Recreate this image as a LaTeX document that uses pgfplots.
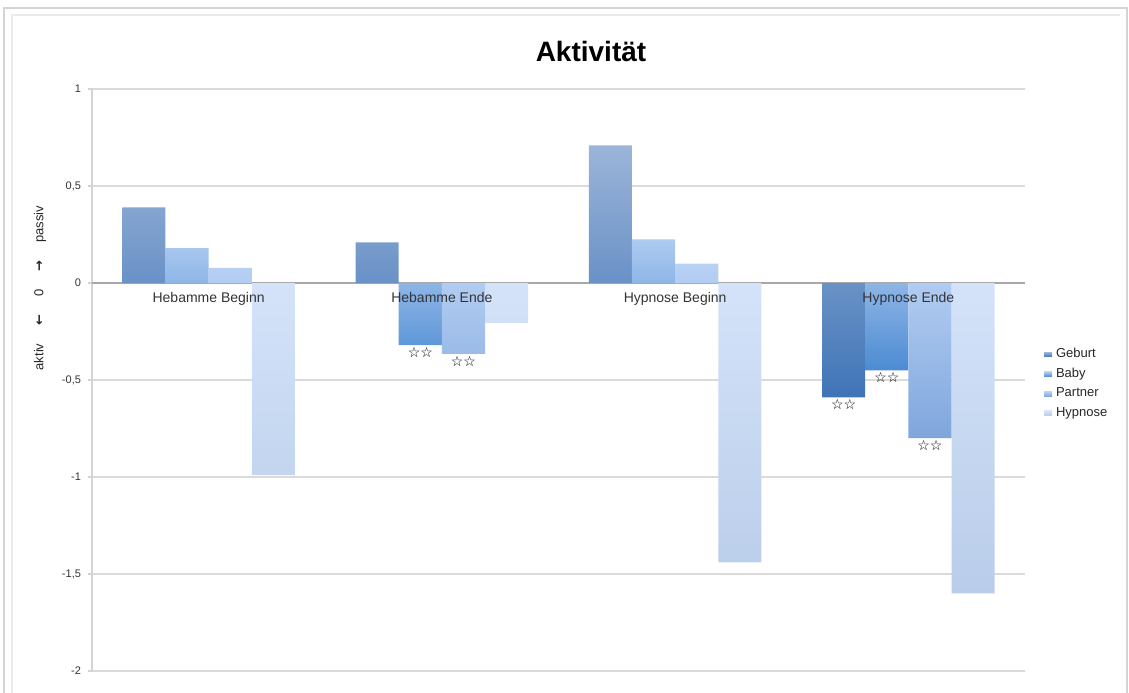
\documentclass[border=0pt]{standalone}
\usepackage{fontspec}
\setmainfont{Liberation Sans}
\newfontfamily\symfont{DejaVu Sans}
\usepackage{pgfplots}
\pgfplotsset{compat=1.18}

% bar gradients: lighter at the top, darker at the bottom
\definecolor{gebT}{HTML}{9CB5D9}
\definecolor{gebB}{HTML}{3F74B7}
\definecolor{babT}{HTML}{AECBF1}
\definecolor{babB}{HTML}{4C8BD2}
\definecolor{parT}{HTML}{B8D1F5}
\definecolor{parB}{HTML}{7FA6DC}
\definecolor{hypT}{HTML}{D4E3F9}
\definecolor{hypB}{HTML}{B9CCE9}
\definecolor{framegray}{HTML}{D4D4D4}
\definecolor{gridgray}{HTML}{DADADA}
\definecolor{zerogray}{HTML}{A8A8A8}

\newcommand{\stars}{{\symfont\fontsize{7}{7}\selectfont ☆☆}}

\begin{document}
\begin{tikzpicture}
% decorations laid out on a half-point grid
\begin{scope}[x=0.5pt,y=0.5pt]
\path[use as bounding box] (0,0) rectangle (1129,692);
\draw[framegray, line width=0.9pt] (4,-20) -- (4,684) -- (1127,684) -- (1127,-20);
\draw[black!8, line width=0.9pt] (12,-20) -- (12,677) -- (1120,677);
\node[anchor=base, font=\bfseries\fontsize{14}{14}\selectfont] at (591,630) {Aktivität};
\node[rotate=90, font=\fontsize{6.5}{7}\selectfont, text=black!85] at (40,404)
  {aktiv\hspace{9pt}{\symfont\bfseries ←}\hspace{9pt}0\hspace{9pt}{\symfont\bfseries →}\hspace{9pt}passiv};
\end{scope}

\begin{axis}[
  at={(46pt,10.5pt)}, anchor=south west,
  width=466.5pt, height=291pt, scale only axis,
  xmin=-0.5, xmax=3.5, ymin=-2, ymax=1,
  axis x line=none, axis y line*=left,
  y axis line style={draw=framegray, line width=0.9pt},
  ytick={-2,-1.5,-1,-0.5,0,0.5,1},
  yticklabels={-2,{-1,5},-1,{-0,5},0,{0,5},1},
  yticklabel style={font=\fontsize{5.5}{6}\selectfont, text=black!80},
  tick align=outside, major tick length=2pt,
  ytick style={draw=framegray, line width=0.9pt},
  ymajorgrids, grid style={draw=gridgray, line width=0.9pt},
  extra y ticks={0}, extra y tick labels={},
  extra y tick style={grid style={draw=zerogray, line width=0.9pt}},
  bar width=0.185,
  legend style={at={(axis description cs:1.0200,0.562)}, anchor=north west,
    draw=none, fill=none, inner sep=0pt, row sep=-0.3pt,
    font=\fontsize{6.5}{7}\selectfont, text=black!85},
  legend cell align=left,
  legend image code/.code={\fill[#1] (0pt,-1.2pt) rectangle (4pt,1.2pt);},
]
\addplot[ybar, bar shift=-0.2775, draw=none, top color=gebT, bottom color=gebB]
  coordinates {(0,0.39) (1,0.21) (2,0.71) (3,-0.59)};
\addlegendentry{Geburt}
\addplot[ybar, bar shift=-0.0925, draw=none, top color=babT, bottom color=babB]
  coordinates {(0,0.18) (1,-0.32) (2,0.225) (3,-0.45)};
\addlegendentry{Baby}
\addplot[ybar, bar shift=0.0925, draw=none, top color=parT, bottom color=parB]
  coordinates {(0,0.078) (1,-0.365) (2,0.10) (3,-0.80)};
\addlegendentry{Partner}
\addplot[ybar, bar shift=0.2775, draw=none, top color=hypT, bottom color=hypB]
  coordinates {(0,-0.99) (1,-0.206) (2,-1.44) (3,-1.60)};
\addlegendentry{Hypnose}

% category names sit just below the zero line, on a common baseline
\begin{scope}[every node/.style={anchor=base, font=\fontsize{7}{8}\selectfont, text=black!80, yshift=-9.5pt}]
\node at (axis cs:0,0) {Hebamme Beginn};
\node at (axis cs:1,0) {Hebamme Ende};
\node at (axis cs:2,0) {Hypnose Beginn};
\node at (axis cs:3,0) {Hypnose Ende};
\end{scope}

% significance stars under the bar ends
\node[anchor=north, inner sep=1pt] at (axis cs:0.9075,-0.32) {\stars};
\node[anchor=north, inner sep=1pt] at (axis cs:1.0925,-0.365) {\stars};
\node[anchor=north, inner sep=1pt] at (axis cs:2.7225,-0.59) {\stars};
\node[anchor=north, inner sep=1pt] at (axis cs:2.9075,-0.45) {\stars};
\node[anchor=north, inner sep=1pt] at (axis cs:3.0925,-0.80) {\stars};
\end{axis}
\end{tikzpicture}
\end{document}
